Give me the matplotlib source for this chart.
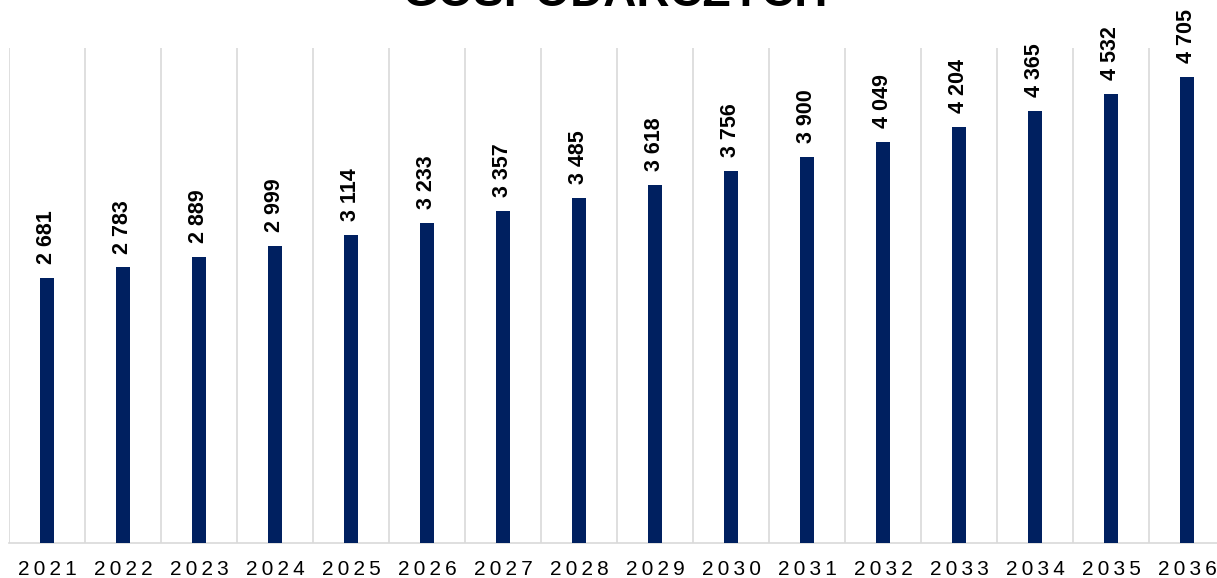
import matplotlib.pyplot as plt
import numpy as np

plt.rcParams['font.family'] = ['Liberation Sans', 'DejaVu Sans']

years = ['2021', '2022', '2023', '2024', '2025', '2026', '2027', '2028',
         '2029', '2030', '2031', '2032', '2033', '2034', '2035', '2036']
values = [2681, 2783, 2889, 2999, 3114, 3233, 3357, 3485,
          3618, 3756, 3900, 4049, 4204, 4365, 4532, 4705]

W, H = 1217, 578
fig = plt.figure(figsize=(W / 100, H / 100), dpi=100)
ax = fig.add_axes([9 / W, (H - 543) / H, (1225 - 9) / W, (543 - 48) / H])

x = np.arange(len(years))
bars = ax.bar(x, values, width=0.18, color='#002060', zorder=3)

# value labels, space as thousands separator
for xi, v in zip(x, values):
    lbl = f'{v:,}'.replace(',', ' ')
    ax.annotate(lbl, (xi, v), xytext=(0, 10), textcoords='offset points',
                rotation=90, ha='center', va='bottom', fontsize=15.5,
                fontweight='bold', color='black')

ax.set_xlim(-0.5, len(years) - 0.5)
ax.set_ylim(0, 5000)
ax.set_xticks(x)
# spaced-out year labels
ax.set_xticklabels(['\u2009'.join(y) for y in years], fontsize=15)
ax.set_xticks(np.arange(len(years) + 1) - 0.5, minor=True)
ax.tick_params(axis='x', which='both', length=0, pad=12)
ax.set_yticks([])
ax.grid(axis='x', which='minor', color='#d9d9d9', linewidth=1.2, zorder=0)
ax.grid(axis='x', which='major', visible=False)

for s in ['top', 'right', 'left']:
    ax.spines[s].set_visible(False)
ax.spines['bottom'].set_color('#d9d9d9')
ax.spines['bottom'].set_linewidth(1.2)

fig.text(615 / W, 1 - 6 / H, 'GOSPODARCZYCH', ha='center', va='baseline',
         fontsize=33, fontweight='bold')

fig.savefig('out.png', dpi=100)
